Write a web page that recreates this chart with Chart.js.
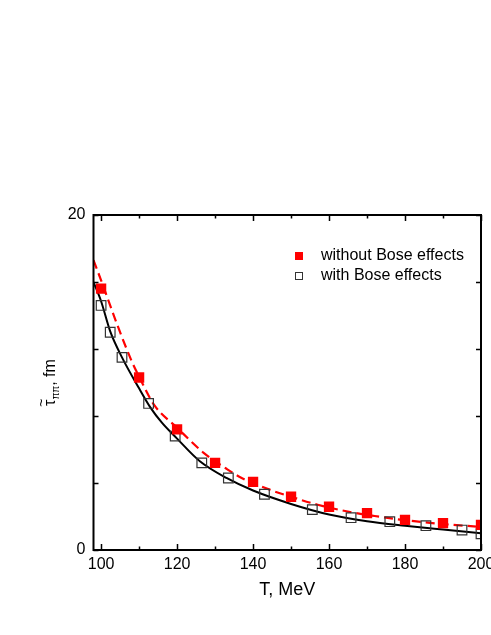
<!DOCTYPE html>
<html>
<head>
<meta charset="utf-8">
<script src="https://cdn.jsdelivr.net/npm/chart.js@4/dist/chart.umd.min.js"></script>
<style>
  html, body { margin: 0; padding: 0; background: #fff; }
  #wrap { width: 491px; height: 635px; }
</style>
</head>
<body>
<div id="wrap"><canvas id="tau-chart" width="491" height="635"></canvas></div>
<script>
// values
const T_RED = [100, 110, 120, 130, 140, 150, 160, 170, 180, 190, 200];
const TAU_RED = [15.6, 10.3, 7.2, 5.2, 4.07, 3.18, 2.58, 2.2, 1.8, 1.6, 1.5];

const T_OPEN = [100, 102.4, 105.5, 112.5, 119.5, 126.5, 133.5, 143, 155.6, 165.8, 176, 185.5, 195, 200];
const TAU_OPEN = [14.6, 13.0, 11.5, 8.75, 6.8, 5.2, 4.3, 3.33, 2.41, 1.93, 1.69, 1.45, 1.19, 0.97];

const T_SOLID = [98, 100, 102.4, 105.5, 110, 113, 116, 120, 126, 133, 140, 150, 160, 170, 180, 190, 200];
const TAU_SOLID = [16.0, 14.85, 13.05, 11.5, 9.65, 8.5, 7.6, 6.65, 5.3, 4.3, 3.55, 2.75, 2.12, 1.72, 1.45, 1.22, 1.0];

const T_DASH = [98, 100, 104, 108, 110, 114, 120, 127, 133, 137, 145, 150, 157, 166, 172, 180, 190, 200];
const TAU_DASH = [17.3, 16.1, 13.6, 11.3, 10.35, 8.65, 7.3, 5.8, 4.85, 4.3, 3.55, 3.18, 2.7, 2.25, 2.03, 1.78, 1.55, 1.38];

const X_TICKS = [100, 120, 140, 160, 180, 200];
const X_MINOR = [110, 130, 150, 170, 190];
const Y_TICKS = [0, 4, 8, 12, 16, 20];
const Y_LABELED = [0, 20];

const FONT = 'Liberation Sans, Arial, sans-serif';

function pts(xs, ys) {
    return xs.map((x, i) => ({ x: x, y: ys[i] }));
}

// frame on four sides, ticks pointing inward
const framePlugin = {
    id: 'frame',
    afterDatasetsDraw(chart) {
        const { ctx, chartArea: a, scales } = chart;
        const sx = scales.x, sy = scales.y;
        ctx.save();
        ctx.strokeStyle = '#000';
        ctx.lineWidth = 2;
        ctx.strokeRect(a.left, a.top, a.right - a.left, a.bottom - a.top);
        ctx.lineWidth = 1.5;
        ctx.beginPath();
        const xt = (v, len) => {
            const px = Math.round(sx.getPixelForValue(v)) + 0.5;
            ctx.moveTo(px, a.bottom); ctx.lineTo(px, a.bottom - len);
            ctx.moveTo(px, a.top); ctx.lineTo(px, a.top + len);
        };
        X_TICKS.forEach(v => xt(v, 6));
        X_MINOR.forEach(v => xt(v, 3.5));
        Y_TICKS.forEach(v => {
            const py = Math.round(sy.getPixelForValue(v)) + 0.5;
            ctx.moveTo(a.left, py); ctx.lineTo(a.left + 5, py);
            ctx.moveTo(a.right, py); ctx.lineTo(a.right - 5, py);
        });
        ctx.stroke();
        ctx.restore();
    },
    afterDraw(chart) {
        const { ctx, chartArea: a } = chart;
        ctx.save();
        // y axis title: tau with tilde, subscript pi pi, ", fm"
        ctx.translate(55, (a.top + a.bottom) / 2);
        ctx.rotate(-Math.PI / 2);
        ctx.fillStyle = '#000';
        ctx.textBaseline = 'alphabetic';
        const big = '16px ' + FONT, small = '10px ' + FONT;
        ctx.font = big;
        const wTau = ctx.measureText('\u03C4').width;
        const wRest = ctx.measureText(', fm').width;
        ctx.font = small;
        const wSub = ctx.measureText('\u03C0\u03C0').width;
        let x = -(wTau + wSub + wRest) / 2;
        ctx.font = big;
        ctx.fillText('\u03C4', x, 0);
        ctx.font = '14px ' + FONT;
        ctx.textAlign = 'center';
        ctx.fillText('~', x + wTau / 2, -9);
        ctx.textAlign = 'left';
        x += wTau;
        ctx.font = small;
        ctx.fillText('\u03C0\u03C0', x, 4);
        x += wSub;
        ctx.font = big;
        ctx.fillText(', fm', x, 0);
        ctx.restore();

        // legend for the two marker series
        ctx.save();
        const items = chart.data.datasets.filter(d => d.showLegend);
        ctx.font = '16px ' + FONT;
        ctx.textBaseline = 'middle';
        items.forEach((d, i) => {
            const y = 256 + i * 20;
            const mx = 299;
            if (d.pointBackgroundColor !== 'transparent') {
                ctx.fillStyle = d.pointBackgroundColor;
                ctx.fillRect(mx - 4, y - 4, 8, 8);
            } else {
                ctx.strokeStyle = d.pointBorderColor;
                ctx.lineWidth = 1;
                ctx.strokeRect(mx - 3.5, y - 3.5, 7, 7);
            }
            ctx.fillStyle = '#000';
            ctx.fillText(d.label, 321, y);
        });
        ctx.restore();
    }
};

const chartConfig = {
    type: 'scatter',
    data: {
        datasets: [{
            label: 'without Bose effects',
            showLegend: true,
            data: pts(T_RED, TAU_RED),
            pointStyle: 'rect',
            pointRadius: 7.3,
            pointBackgroundColor: '#ff0000',
            pointBorderColor: '#ff0000',
            pointBorderWidth: 0,
            showLine: false
        }, {
            label: 'with Bose effects',
            showLegend: true,
            data: pts(T_OPEN, TAU_OPEN),
            pointStyle: 'rect',
            pointRadius: 6.8,
            pointBackgroundColor: 'transparent',
            pointBorderColor: '#333333',
            pointBorderWidth: 1.2,
            showLine: false
        }, {
            label: 'dashed',
            type: 'line',
            data: pts(T_DASH, TAU_DASH),
            borderColor: '#ff0000',
            borderWidth: 2.2,
            borderDash: [9, 5],
            pointRadius: 0,
            cubicInterpolationMode: 'monotone',
            fill: false
        }, {
            label: 'solid',
            type: 'line',
            data: pts(T_SOLID, TAU_SOLID),
            borderColor: '#000000',
            borderWidth: 2,
            pointRadius: 0,
            cubicInterpolationMode: 'monotone',
            fill: false
        }]
    },
    options: {
        responsive: false,
        animation: false,
        events: [],
        layout: { padding: { left: 0, right: 10, top: 215, bottom: 0 } },
        scales: {
            x: {
                type: 'linear',
                min: 98,
                max: 200,
                grid: { display: false, drawTicks: false },
                border: { display: false },
                afterBuildTicks: s => { s.ticks = X_TICKS.map(v => ({ value: v })); },
                afterFit: s => { s.height = 85; s.paddingLeft = 0; s.paddingRight = 0; },
                ticks: {
                    color: '#000',
                    font: { family: FONT, size: 16 },
                    padding: 5,
                    maxRotation: 0,
                    autoSkip: false
                },
                title: {
                    display: true,
                    text: 'T, MeV',
                    color: '#000',
                    font: { family: FONT, size: 18 },
                    padding: { top: 0, bottom: 34 }
                }
            },
            y: {
                type: 'linear',
                min: 0,
                max: 20,
                grid: { display: false, drawTicks: false },
                border: { display: false },
                afterBuildTicks: s => { s.ticks = Y_TICKS.map(v => ({ value: v })); },
                afterFit: s => { s.width = 93.5; s.paddingTop = 0; s.paddingBottom = 0; },
                ticks: {
                    color: '#000',
                    font: { family: FONT, size: 16 },
                    padding: 8,
                    autoSkip: false,
                    callback: v => Y_LABELED.includes(v) ? String(v) : ''
                }
            }
        },
        plugins: {
            legend: { display: false },
            tooltip: { enabled: false }
        }
    },
    plugins: [framePlugin]
};

const ctx = document.getElementById('tau-chart').getContext('2d');
new Chart(ctx, chartConfig);
</script>
</body>
</html>
